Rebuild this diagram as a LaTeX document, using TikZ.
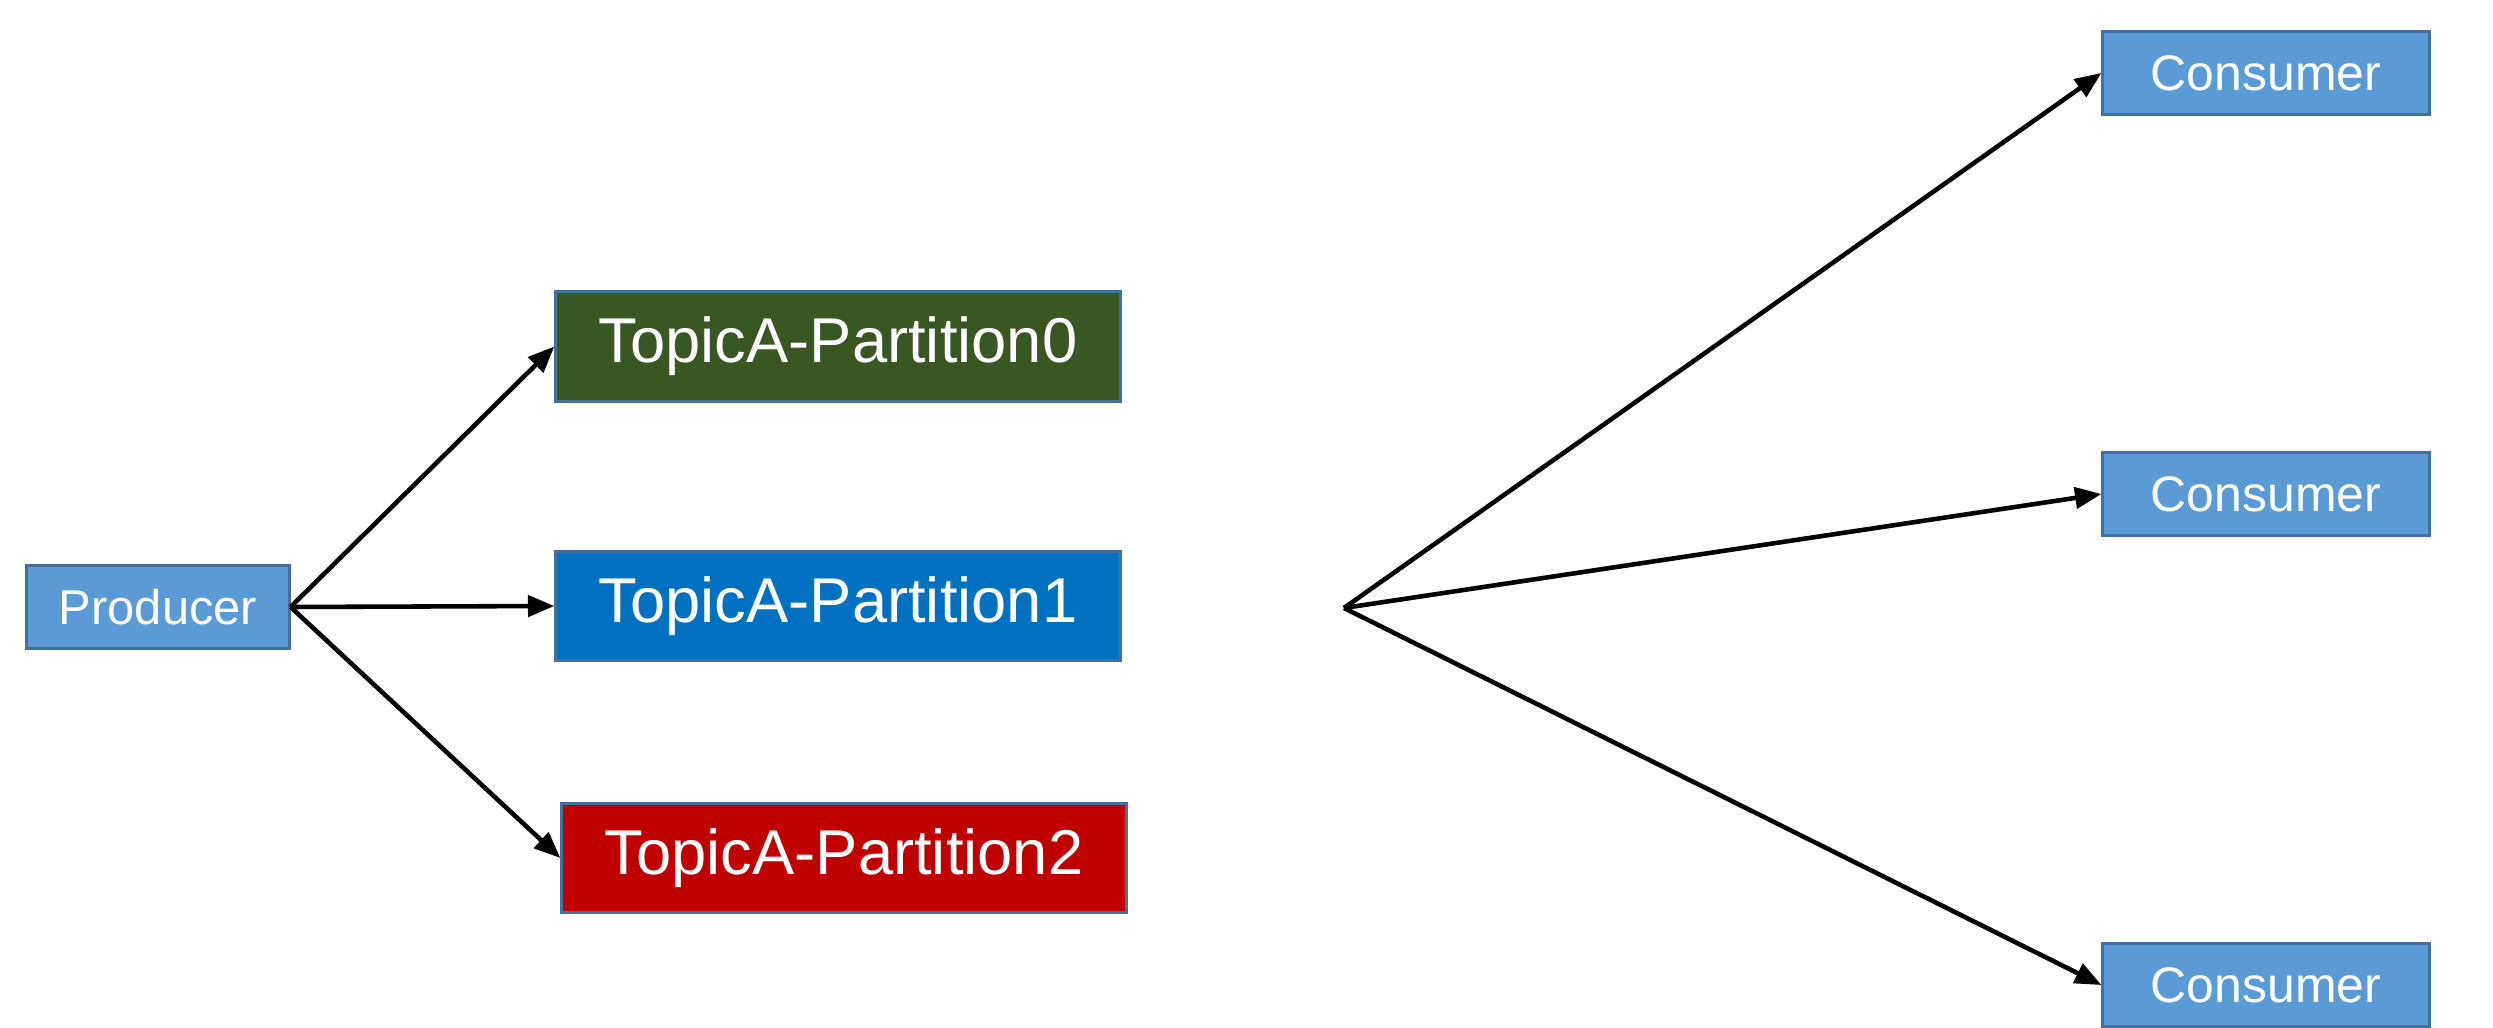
\documentclass[tikz,border=0pt]{standalone}
\usepackage{fontspec}
\setmainfont{Liberation Sans}
\usetikzlibrary{arrows.meta}
\definecolor{lblue}{RGB}{91,155,213}
\definecolor{bord}{RGB}{65,113,156}
\definecolor{pgreen}{RGB}{56,87,35}
\definecolor{pblue}{RGB}{0,112,192}
\definecolor{pred}{RGB}{192,0,0}
\tikzset{
  box/.style={draw=bord, line width=0.85pt, inner sep=0pt, text=white},
  smallbox/.style={box, fill=lblue, minimum width=2.62cm, minimum height=0.82cm, font=\fontsize{13.9}{16}\selectfont},
  consbox/.style={box, fill=lblue, minimum width=3.26cm, minimum height=0.83cm, font=\fontsize{14.2}{16}\selectfont},
  partbox/.style={box, minimum width=5.64cm, minimum height=1.09cm, font=\fontsize{18}{20}\selectfont},
  conn/.style={line width=1.3pt, -{Triangle[length=7.5pt,width=6pt]}}
}
\begin{document}
\begin{tikzpicture}[x=0.01cm,y=-0.01cm]
\useasboundingbox (0,0) rectangle (2493,1028);
\node[smallbox] (prod) at (158,607) {Producer};
\node[partbox, fill=pgreen] (p0) at (838,346.5) {TopicA-Partition0};
\node[partbox, fill=pblue] (p1) at (838,606) {TopicA-Partition1};
\node[partbox, fill=pred] (p2) at (844,858) {TopicA-Partition2};
\node[consbox] (c1) at (2266,73) {Consumer};
\node[consbox] (c2) at (2266,494) {Consumer};
\node[consbox] (c3) at (2266,985) {Consumer};
\coordinate (hub) at (1344,608);
\draw[conn] (prod.east) -- (p0.west);
\draw[conn] (prod.east) -- (p1.west);
\draw[conn] (prod.east) -- (p2.west);
\draw[conn] (hub) -- (c1.west);
\draw[conn] (hub) -- (c2.west);
\draw[conn] (hub) -- (c3.west);
\end{tikzpicture}
\end{document}
